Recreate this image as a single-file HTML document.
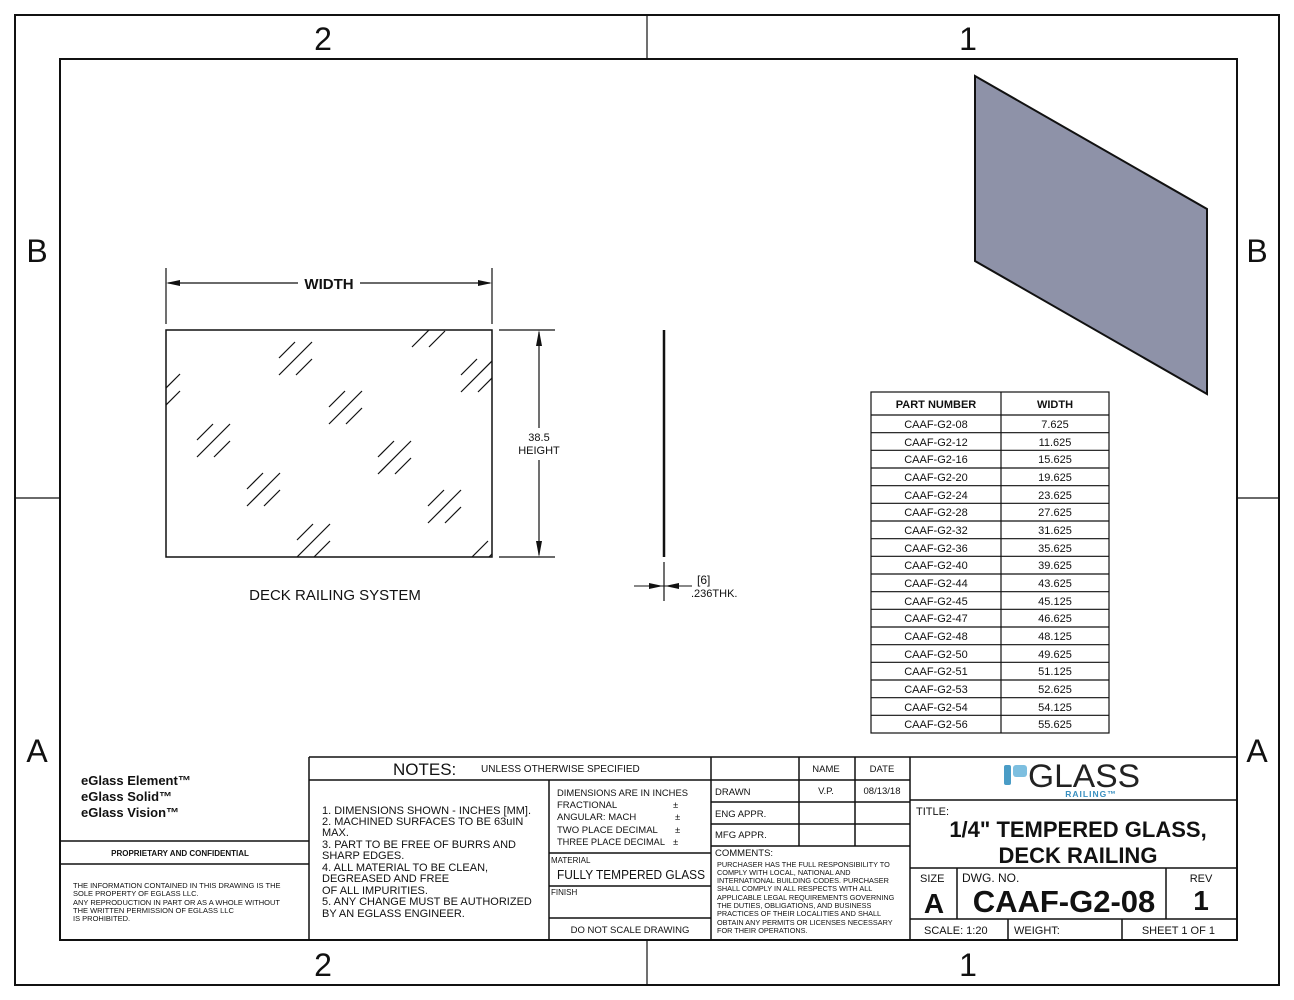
<!DOCTYPE html>
<html><head><meta charset="utf-8"><style>
html,body{margin:0;padding:0;background:#fff;}
svg{display:block;font-family:"Liberation Sans",sans-serif;}
</style></head><body>
<svg width="1294" height="1000" viewBox="0 0 1294 1000" xmlns="http://www.w3.org/2000/svg">
<defs>
<clipPath id="gc"><rect x="166" y="330" width="326" height="227"/></clipPath>
<g id="h" stroke="#111" stroke-width="1.2">
<line x1="0" y1="16" x2="16" y2="0"/><line x1="0" y1="33" x2="33" y2="0"/><line x1="17" y1="33" x2="33" y2="17"/>
</g>
</defs>
<rect width="1294" height="1000" fill="#fff"/>
<g fill="none" stroke="#111" stroke-width="2">
<rect x="15" y="15" width="1264" height="970"/>
<rect x="60" y="59" width="1177" height="881"/>
</g>
<g stroke="#111" stroke-width="1.2">
<line x1="647" y1="15" x2="647" y2="59"/><line x1="647" y1="940" x2="647" y2="985"/>
<line x1="15" y1="498" x2="60" y2="498"/><line x1="1237" y1="498" x2="1279" y2="498"/>
</g>
<g font-size="32" fill="#111" text-anchor="middle">
<text x="323" y="50">2</text><text x="968" y="50">1</text>
<text x="323" y="976">2</text><text x="968" y="976">1</text>
<text x="37" y="262">B</text><text x="1257" y="262">B</text>
<text x="37" y="762">A</text><text x="1257" y="762">A</text>
</g>

<g stroke="#111" stroke-width="1.2" fill="none">
<line x1="166" y1="268" x2="166" y2="324"/><line x1="492" y1="268" x2="492" y2="324"/>
<line x1="168" y1="283" x2="298" y2="283"/><line x1="360" y1="283" x2="490" y2="283"/>
<line x1="499" y1="330" x2="555" y2="330"/><line x1="499" y1="557" x2="555" y2="557"/>
<line x1="539" y1="332" x2="539" y2="428"/><line x1="539" y1="460" x2="539" y2="555"/>
<rect x="166" y="330" width="326" height="227" stroke-width="1.5"/>
</g>
<g fill="#111">
<polygon points="166,283 180,280 180,286"/><polygon points="492,283 478,280 478,286"/>
<polygon points="539,330 536,346 542,346"/><polygon points="539,557 536,541 542,541"/>
</g>
<text x="329" y="289" font-size="15" font-weight="bold" text-anchor="middle" fill="#111">WIDTH</text>
<text x="539" y="441" font-size="11" text-anchor="middle" fill="#111">38.5</text>
<text x="539" y="454" font-size="11" text-anchor="middle" fill="#111">HEIGHT</text>
<g clip-path="url(#gc)">
<use href="#h" x="279" y="342"/><use href="#h" x="329" y="391"/><use href="#h" x="197" y="424"/>
<use href="#h" x="247" y="473"/><use href="#h" x="378" y="441"/><use href="#h" x="428" y="490"/>
<use href="#h" x="297" y="524"/><use href="#h" x="461" y="359"/><use href="#h" x="412" y="314"/>
<use href="#h" x="147" y="374"/><use href="#h" x="472" y="541"/>
</g>
<text x="335" y="600" font-size="15" text-anchor="middle" fill="#111">DECK RAILING SYSTEM</text>

<line x1="664" y1="330" x2="664" y2="557" stroke="#111" stroke-width="2.5"/>
<line x1="664" y1="562" x2="664" y2="601" stroke="#111" stroke-width="1.2"/>
<line x1="634" y1="586" x2="692" y2="586" stroke="#111" stroke-width="1"/>
<polygon points="663,586 649,583 649,589" fill="#111"/><polygon points="665,586 679,583 679,589" fill="#111"/>
<text x="697" y="584" font-size="12" fill="#111">[6]</text>
<text x="691" y="597" font-size="11" fill="#111">.236THK.</text>

<polygon points="975,76 1207,209 1207,394 975,261" fill="#8e92a8" stroke="#111" stroke-width="2"/>

<g stroke="#111" stroke-width="1.2" fill="none">
<rect x="871" y="392" width="238" height="341"/>
<line x1="1001" y1="392" x2="1001" y2="733"/>
<line x1="871" y1="415" x2="1109" y2="415"/>
<line x1="871" y1="432.7" x2="1109" y2="432.7"/><line x1="871" y1="450.3" x2="1109" y2="450.3"/>
<line x1="871" y1="468" x2="1109" y2="468"/><line x1="871" y1="485.7" x2="1109" y2="485.7"/>
<line x1="871" y1="503.3" x2="1109" y2="503.3"/><line x1="871" y1="521" x2="1109" y2="521"/>
<line x1="871" y1="538.7" x2="1109" y2="538.7"/><line x1="871" y1="556.3" x2="1109" y2="556.3"/>
<line x1="871" y1="574" x2="1109" y2="574"/><line x1="871" y1="591.7" x2="1109" y2="591.7"/>
<line x1="871" y1="609.3" x2="1109" y2="609.3"/><line x1="871" y1="627" x2="1109" y2="627"/>
<line x1="871" y1="644.7" x2="1109" y2="644.7"/><line x1="871" y1="662.3" x2="1109" y2="662.3"/>
<line x1="871" y1="680" x2="1109" y2="680"/><line x1="871" y1="697.7" x2="1109" y2="697.7"/>
<line x1="871" y1="715.3" x2="1109" y2="715.3"/>
</g>
<g font-size="11" fill="#111" text-anchor="middle">
<text x="936" y="408" font-weight="bold">PART NUMBER</text><text x="1055" y="408" font-weight="bold">WIDTH</text>
<text x="936" y="428">CAAF-G2-08</text><text x="1055" y="428">7.625</text>
<text x="936" y="446">CAAF-G2-12</text><text x="1055" y="446">11.625</text>
<text x="936" y="463">CAAF-G2-16</text><text x="1055" y="463">15.625</text>
<text x="936" y="481">CAAF-G2-20</text><text x="1055" y="481">19.625</text>
<text x="936" y="499">CAAF-G2-24</text><text x="1055" y="499">23.625</text>
<text x="936" y="516">CAAF-G2-28</text><text x="1055" y="516">27.625</text>
<text x="936" y="534">CAAF-G2-32</text><text x="1055" y="534">31.625</text>
<text x="936" y="552">CAAF-G2-36</text><text x="1055" y="552">35.625</text>
<text x="936" y="569">CAAF-G2-40</text><text x="1055" y="569">39.625</text>
<text x="936" y="587">CAAF-G2-44</text><text x="1055" y="587">43.625</text>
<text x="936" y="605">CAAF-G2-45</text><text x="1055" y="605">45.125</text>
<text x="936" y="622">CAAF-G2-47</text><text x="1055" y="622">46.625</text>
<text x="936" y="640">CAAF-G2-48</text><text x="1055" y="640">48.125</text>
<text x="936" y="658">CAAF-G2-50</text><text x="1055" y="658">49.625</text>
<text x="936" y="675">CAAF-G2-51</text><text x="1055" y="675">51.125</text>
<text x="936" y="693">CAAF-G2-53</text><text x="1055" y="693">52.625</text>
<text x="936" y="711">CAAF-G2-54</text><text x="1055" y="711">54.125</text>
<text x="936" y="728">CAAF-G2-56</text><text x="1055" y="728">55.625</text>
</g>

<g stroke="#111" stroke-width="1.5" fill="none">
<line x1="309" y1="757" x2="1237" y2="757"/>
<line x1="309" y1="757" x2="309" y2="940"/>
<line x1="60" y1="841" x2="309" y2="841"/><line x1="60" y1="864" x2="309" y2="864"/>
<line x1="309" y1="780" x2="910" y2="780"/>
<line x1="549" y1="780" x2="549" y2="940"/>
<line x1="549" y1="853" x2="711" y2="853"/><line x1="549" y1="886" x2="711" y2="886"/><line x1="549" y1="918" x2="711" y2="918"/>
<line x1="711" y1="757" x2="711" y2="940"/>
<line x1="799" y1="757" x2="799" y2="846"/><line x1="855" y1="757" x2="855" y2="846"/>
<line x1="711" y1="802" x2="910" y2="802"/><line x1="711" y1="824" x2="910" y2="824"/><line x1="711" y1="846" x2="910" y2="846"/>
<line x1="910" y1="757" x2="910" y2="940"/>
<line x1="910" y1="800" x2="1237" y2="800"/><line x1="910" y1="868" x2="1237" y2="868"/><line x1="910" y1="919" x2="1237" y2="919"/>
<line x1="957" y1="868" x2="957" y2="919"/><line x1="1166" y1="868" x2="1166" y2="919"/>
<line x1="1008" y1="919" x2="1008" y2="940"/><line x1="1122" y1="919" x2="1122" y2="940"/>
</g>

<g fill="#111">
<text x="81" y="785" font-size="13" font-weight="bold">eGlass Element™</text>
<text x="81" y="801" font-size="13" font-weight="bold">eGlass Solid™</text>
<text x="81" y="817" font-size="13" font-weight="bold">eGlass Vision™</text>
<text x="180" y="856" font-size="8" font-weight="bold" text-anchor="middle">PROPRIETARY AND CONFIDENTIAL</text>
<g font-size="7.5"><text x="73" y="888">THE INFORMATION CONTAINED IN THIS DRAWING IS THE</text>
<text x="73" y="896">SOLE PROPERTY OF EGLASS LLC.</text>
<text x="73" y="905">ANY REPRODUCTION IN PART OR AS A WHOLE WITHOUT</text>
<text x="73" y="913">THE WRITTEN PERMISSION OF EGLASS LLC</text>
<text x="73" y="921">IS PROHIBITED.</text></g>
</g>

<g fill="#111">
<text x="393" y="775" font-size="17">NOTES:</text>
<text x="481" y="772" font-size="10">UNLESS OTHERWISE SPECIFIED</text>
<g font-size="11"><text x="322" y="814">1. DIMENSIONS SHOWN - INCHES [MM].</text>
<text x="322" y="825">2. MACHINED SURFACES TO BE 63uIN</text>
<text x="322" y="836">MAX.</text>
<text x="322" y="848">3. PART TO BE FREE OF BURRS AND</text>
<text x="322" y="859">SHARP EDGES.</text>
<text x="322" y="871">4. ALL MATERIAL TO BE CLEAN,</text>
<text x="322" y="882">DEGREASED AND FREE</text>
<text x="322" y="894">OF ALL IMPURITIES.</text>
<text x="322" y="905">5. ANY CHANGE MUST BE AUTHORIZED</text>
<text x="322" y="917">BY AN EGLASS ENGINEER.</text></g>
<g font-size="9.5"><text x="557" y="796" textLength="131" lengthAdjust="spacingAndGlyphs">DIMENSIONS ARE IN INCHES</text>
<text x="557" y="808">FRACTIONAL</text><text x="673" y="808">±</text>
<text x="557" y="820">ANGULAR: MACH</text><text x="675" y="820">±</text>
<text x="557" y="833">TWO PLACE DECIMAL</text><text x="675" y="833">±</text>
<text x="557" y="845" textLength="108" lengthAdjust="spacingAndGlyphs">THREE PLACE DECIMAL</text><text x="673" y="845">±</text></g>
<text x="551" y="863" font-size="8">MATERIAL</text>
<text x="631" y="879" font-size="12.5" text-anchor="middle" textLength="148" lengthAdjust="spacingAndGlyphs">FULLY TEMPERED GLASS</text>
<text x="551" y="895" font-size="8">FINISH</text>
<text x="630" y="933" font-size="9.5" text-anchor="middle">DO NOT SCALE DRAWING</text>
<g font-size="9.5"><text x="826" y="772" text-anchor="middle">NAME</text><text x="882" y="772" text-anchor="middle">DATE</text>
<text x="715" y="795">DRAWN</text><text x="826" y="794" text-anchor="middle">V.P.</text><text x="882" y="794" text-anchor="middle">08/13/18</text>
<text x="715" y="817">ENG APPR.</text><text x="715" y="838">MFG APPR.</text>
<text x="715" y="856">COMMENTS:</text></g>
<g font-size="7.3"><text x="717" y="867">PURCHASER HAS THE FULL RESPONSIBILITY TO</text>
<text x="717" y="875">COMPLY WITH LOCAL, NATIONAL AND</text>
<text x="717" y="883">INTERNATIONAL BUILDING CODES. PURCHASER</text>
<text x="717" y="891">SHALL COMPLY IN ALL RESPECTS WITH ALL</text>
<text x="717" y="900">APPLICABLE LEGAL REQUIREMENTS GOVERNING</text>
<text x="717" y="908">THE DUTIES, OBLIGATIONS, AND BUSINESS</text>
<text x="717" y="916">PRACTICES OF THEIR LOCALITIES AND SHALL</text>
<text x="717" y="925">OBTAIN ANY PERMITS OR LICENSES NECESSARY</text>
<text x="717" y="933">FOR THEIR OPERATIONS.</text></g>
</g>

<rect x="1004" y="765" width="7" height="20" rx="2" fill="#4a9cc6"/>
<rect x="1013" y="765" width="14" height="12" rx="3" fill="#7dbfe0"/>
<text x="1084" y="787" font-size="32" text-anchor="middle" fill="#222" textLength="112" lengthAdjust="spacingAndGlyphs">GLASS</text>
<text x="1091" y="797" font-size="8.5" font-weight="bold" fill="#3a90c0" text-anchor="middle" letter-spacing="1">RAILING™</text>

<g fill="#111">
<text x="916" y="815" font-size="11">TITLE:</text>
<text x="1078" y="837" font-size="22" font-weight="bold" text-anchor="middle">1/4" TEMPERED GLASS,</text>
<text x="1078" y="863" font-size="22" font-weight="bold" text-anchor="middle">DECK RAILING</text>
<text x="920" y="882" font-size="11">SIZE</text>
<text x="934" y="913" font-size="28" font-weight="bold" text-anchor="middle">A</text>
<text x="962" y="882" font-size="12">DWG.  NO.</text>
<text x="1064" y="912" font-size="31" font-weight="bold" text-anchor="middle">CAAF-G2-08</text>
<text x="1201" y="882" font-size="11" text-anchor="middle">REV</text>
<text x="1201" y="910" font-size="28" font-weight="bold" text-anchor="middle">1</text>
<text x="924" y="934" font-size="11">SCALE: 1:20</text>
<text x="1014" y="934" font-size="11">WEIGHT:</text>
<text x="1215" y="934" font-size="11" text-anchor="end">SHEET 1 OF 1</text>
</g>
</svg>
</body></html>
